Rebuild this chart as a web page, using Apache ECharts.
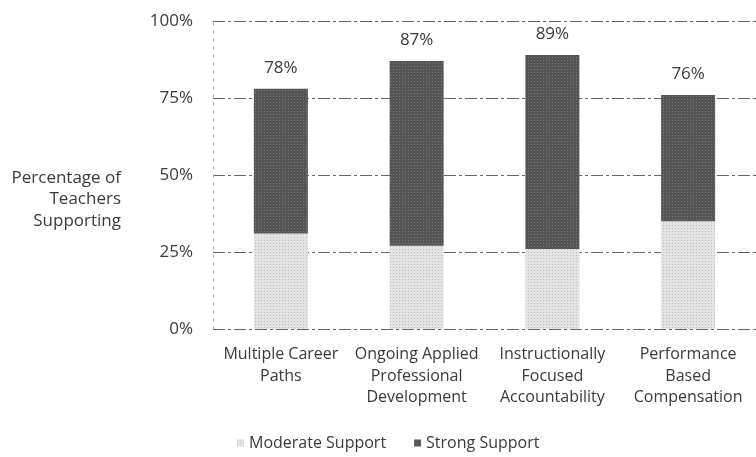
<!DOCTYPE html>
<html>
<head>
<meta charset="utf-8">
<script src="https://cdn.jsdelivr.net/npm/echarts@6/dist/echarts.min.js"></script>
<style>
  html, body { margin: 0; padding: 0; background: #fff; }
  #chart { width: 756px; height: 457px; }
</style>
</head>
<body>
<div id="chart"></div>
<script>
// data
const categories = [
  "Multiple Career\nPaths",
  "Ongoing Applied\nProfessional\nDevelopment",
  "Instructionally\nFocused\nAccountability",
  "Performance\nBased\nCompensation"
];
const moderate = [31, 27, 26, 35];
const strong = [47, 60, 63, 41];
const totals = [78, 87, 89, 76];
const yTicks = [0, 25, 50, 75, 100];

const FONT = "Open Sans";
const TEXT = "#3a3a3a";

const chart = echarts.init(document.getElementById("chart"), null, { renderer: "canvas" });

const option = {
  animation: false,
  textStyle: { fontFamily: FONT },
  grid: { left: 213, top: 21, width: 550, height: 308 },
  legend: {
    data: ["Moderate Support", "Strong Support"],
    left: 232,
    top: 430,
    icon: "rect",
    itemWidth: 7,
    itemHeight: 7,
    itemGap: 28,
    selectedMode: false,
    textStyle: { fontFamily: FONT, fontSize: 16, color: TEXT }
  },
  xAxis: {
    type: "category",
    data: categories,
    axisLine: { show: false },
    axisTick: { show: false },
    axisLabel: {
      color: TEXT,
      fontFamily: FONT,
      fontSize: 16,
      lineHeight: 21.5,
      margin: 15,
      interval: 0
    }
  },
  yAxis: {
    type: "value",
    min: 0,
    max: 100,
    interval: 25,
    axisLine: { show: true, lineStyle: { color: "#aaa", type: [2, 6], width: 1 } },
    axisTick: { show: false },
    splitLine: { lineStyle: { color: "#666", type: [12, 3, 3, 3], width: 1 } },
    axisLabel: {
      color: TEXT,
      fontFamily: FONT,
      fontSize: 17,
      margin: 20,
      formatter: v => yTicks.includes(v) ? v + "%" : ""
    }
  },
  graphic: [{
    type: "text",
    x: 121,
    y: 167,
    style: {
      text: "Percentage of\nTeachers\nSupporting",
      align: "right",
      verticalAlign: "top",
      fontFamily: FONT,
      fontSize: 17,
      lineHeight: 21.5,
      fill: TEXT
    }
  }],
  series: [
    {
      name: "Moderate Support",
      type: "bar",
      stack: "s",
      barWidth: 54,
      data: moderate,
      itemStyle: {
        color: "#e4e4e4",
        decal: { symbol: "rect", symbolSize: 1, color: "rgba(120,120,120,0.35)", dashArrayX: [1, 2], dashArrayY: [1, 2], rotation: 0 }
      }
    },
    {
      name: "Strong Support",
      type: "bar",
      stack: "s",
      barWidth: 54,
      data: strong,
      itemStyle: {
        color: "#555555",
        decal: { symbol: "rect", symbolSize: 1, color: "rgba(190,190,190,0.35)", dashArrayX: [1, 2], dashArrayY: [1, 2], rotation: 0 }
      },
      label: {
        show: true,
        position: "top",
        distance: 12,
        color: TEXT,
        fontFamily: FONT,
        fontSize: 17,
        formatter: p => totals[p.dataIndex] + "%"
      }
    }
  ]
};

chart.setOption(option);
</script>
</body>
</html>
